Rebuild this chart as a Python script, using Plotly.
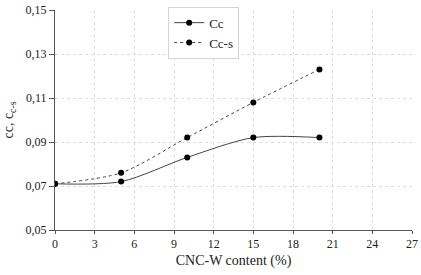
import plotly.graph_objects as go

x_vals = [0, 5, 10, 15, 20]
cc = [0.071, 0.072, 0.083, 0.092, 0.092]
cc_s = [0.071, 0.076, 0.092, 0.108, 0.123]
x_ticks = [0, 3, 6, 9, 12, 15, 18, 21, 24, 27]
y_ticks = [0.05, 0.07, 0.09, 0.11, 0.13, 0.15]
y_tick_text = ["0,05", "0,07", "0,09", "0,11", "0,13", "0,15"]

fig = go.Figure()
fig.add_trace(go.Scatter(x=x_vals, y=cc, name="Cc", mode="lines+markers",
                         line=dict(color="#444444", width=1, shape="spline", smoothing=0.8),
                         marker=dict(color="black", size=6)))
fig.add_trace(go.Scatter(x=x_vals, y=cc_s, name="Cc-s", mode="lines+markers",
                         line=dict(color="#444444", width=1, dash="dot", shape="spline", smoothing=0.8),
                         marker=dict(color="black", size=6)))

fig.update_layout(
    width=421, height=275,
    margin=dict(l=55, r=9, t=10, b=45, autoexpand=False),
    paper_bgcolor="white", plot_bgcolor="white",
    font=dict(family="Liberation Serif, Times New Roman, serif", size=12, color="#222222"),
    showlegend=True,
    legend=dict(x=0.317, y=1.015, xanchor="left", yanchor="top",
                bordercolor="#d5d5d5", borderwidth=1, bgcolor="white",
                font=dict(size=13), tracegroupgap=0, itemwidth=30),
    xaxis=dict(range=[0, 27], tickvals=x_ticks, showgrid=True,
               gridcolor="#dcdcdc", griddash="dot", gridwidth=1,
               showline=True, linecolor="#555555", linewidth=1,
               ticks="outside", ticklen=3, tickcolor="#555555",
               zeroline=False, automargin=False,
               title=dict(text="CNC-W content (%)", standoff=4)),
    yaxis=dict(range=[0.05, 0.15], tickvals=y_ticks, ticktext=y_tick_text,
               showgrid=True, gridcolor="#dcdcdc", griddash="dot", gridwidth=1,
               showline=True, linecolor="#555555", linewidth=1,
               ticks="outside", ticklen=5, tickcolor="#555555",
               zeroline=False, automargin=False,
               title=dict(text="cc, c<sub>c-s</sub>", standoff=8)),
)
fig.write_html("out.html", config={"displayModeBar": False},
               post_script="document.body.style.margin='0';document.body.style.padding='0';")
